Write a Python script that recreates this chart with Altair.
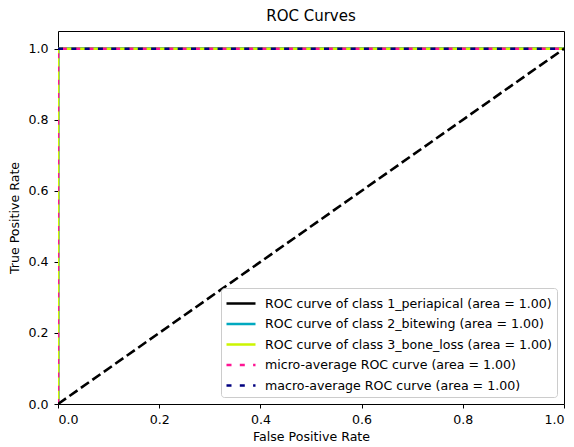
import altair as alt
import pandas as pd

series_names = [
    "ROC curve of class 1_periapical (area = 1.00)",
    "ROC curve of class 2_bitewing (area = 1.00)",
    "ROC curve of class 3_bone_loss (area = 1.00)",
    "micro-average ROC curve (area = 1.00)",
    "macro-average ROC curve (area = 1.00)",
]
series_colors = ["#000000", "#00a9c0", "#ccf500", "#ff1493", "#000080"]

fpr_class1 = [0.0, 0.0, 1.0]
tpr_class1 = [0.0, 1.0, 1.0]
fpr_class2 = [0.0, 0.0, 1.0]
tpr_class2 = [0.0, 1.0, 1.0]
fpr_class3 = [0.0, 0.0, 1.0]
tpr_class3 = [0.0, 1.0, 1.0]
fpr_micro = [0.0, 0.0, 1.0]
tpr_micro = [0.0, 1.0, 1.0]
fpr_macro = [0.0, 1.0]
tpr_macro = [1.0, 1.0]
diag_x = [0.0, 1.0]
diag_y = [0.0, 1.0]

x_ticks = [0.0, 0.2, 0.4, 0.6, 0.8, 1.0]
y_ticks = [0.0, 0.2, 0.4, 0.6, 0.8, 1.0]

rows = []
for name, fx, ty in zip(
    series_names,
    [fpr_class1, fpr_class2, fpr_class3, fpr_micro, fpr_macro],
    [tpr_class1, tpr_class2, tpr_class3, tpr_micro, tpr_macro],
):
    for i, (a, b) in enumerate(zip(fx, ty)):
        rows.append({"series": name, "fpr": a, "tpr": b, "idx": i})
df = pd.DataFrame(rows)
diag_df = pd.DataFrame({"fpr": diag_x, "tpr": diag_y, "idx": list(range(len(diag_x)))})

font = "DejaVu Sans"
fs = 12.6

xenc = alt.X("fpr:Q", title="False Positive Rate",
             scale=alt.Scale(domain=[0, 1.0], nice=False, zero=False),
             axis=alt.Axis(values=x_ticks, format=".1f", grid=False))
yenc = alt.Y("tpr:Q", title="True Positive Rate",
             scale=alt.Scale(domain=[0, 1.05], nice=False, zero=False),
             axis=alt.Axis(values=y_ticks, format=".1f", grid=False))

curves = alt.Chart(df).mark_line(clip=True, strokeCap="butt").encode(
    x=xenc,
    y=yenc,
    order="idx:Q",
    color=alt.Color("series:N", title=None,
                    scale=alt.Scale(domain=series_names, range=series_colors),
                    legend=alt.Legend(orient="bottom-right")),
    strokeDash=alt.StrokeDash("series:N", title=None,
                              scale=alt.Scale(domain=series_names,
                                              range=[[1, 0], [1, 0], [1, 0], [5, 8.3], [5, 8.3]])),
    strokeWidth=alt.StrokeWidth("series:N", title=None,
                                scale=alt.Scale(domain=series_names,
                                                range=[2.6, 2.6, 2.6, 5.3, 5.3])),
)

diag = alt.Chart(diag_df).mark_line(clip=True, color="black", strokeWidth=2.6,
                                    strokeDash=[9.8, 4.2], strokeCap="butt").encode(
    x="fpr:Q", y="tpr:Q", order="idx:Q")

chart = alt.layer(curves, diag).properties(
    width=506, height=373,
    title=alt.TitleParams("ROC Curves", font=font, fontSize=15, fontWeight="normal",
                          color="black", anchor="middle", offset=7),
    autosize=alt.AutoSizeParams(type="none"),
    padding={"left": 50, "top": 23, "right": 2, "bottom": 42},
).configure_view(
    stroke="black", strokeWidth=1
).configure_axis(
    labelFont=font, titleFont=font, labelFontSize=fs, titleFontSize=fs,
    labelColor="black", titleColor="black", titleFontWeight="normal",
    tickColor="black", domainColor="black", tickSize=4,
    domain=False,
).configure_axisX(titlePadding=5, labelPadding=5).configure_axisY(
    titlePadding=6, labelPadding=6
).configure_legend(
    labelFont=font, labelFontSize=fs, labelColor="black",
    fillColor="rgba(255,255,255,0.8)", strokeColor="#cccccc", cornerRadius=3,
    padding=4, offset=7, rowPadding=1.5, labelLimit=400,
    symbolType="M-1,0H1.9", symbolSize=400, labelOffset=17,
)

chart.save("out.html", embed_options={"renderer": "svg", "actions": False})
